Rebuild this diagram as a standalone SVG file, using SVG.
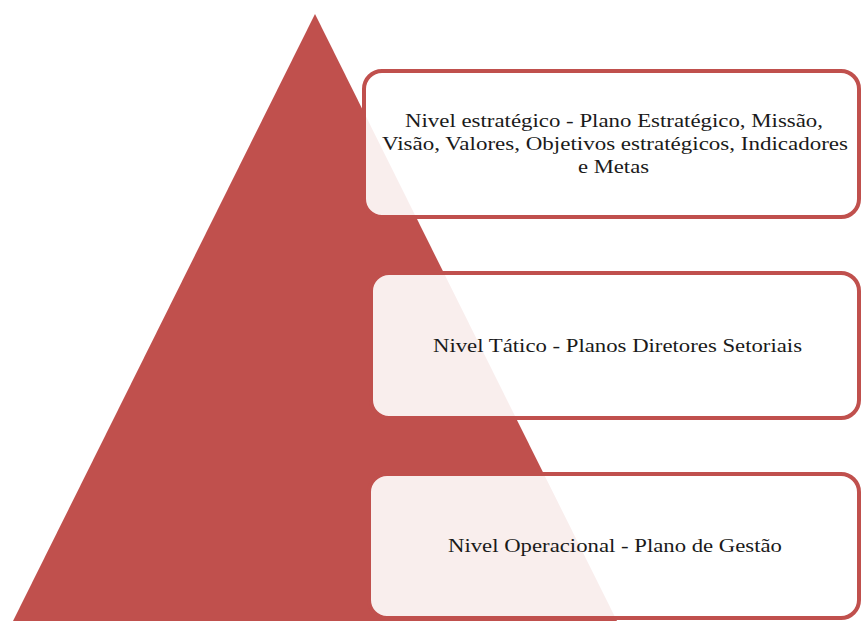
<svg xmlns="http://www.w3.org/2000/svg" width="862" height="621" viewBox="0 0 862 621">
<style>
.box{fill:#ffffff;fill-opacity:0.9;stroke:#c0504d;stroke-width:4}
.t{font-family:'Liberation Serif','Times New Roman',serif;font-size:18px;fill:#1a1a1a;text-anchor:middle}
</style>
<rect width="862" height="621" fill="#ffffff"/>
<g id="pyramid">
<polygon points="315,14 617,621 13,621" fill="#c0504d"/>
</g>
<g id="connectors"></g>
<g id="node-estrategico">
<rect class="box" x="364" y="71" width="495" height="146" rx="18" ry="18"/>
<text class="t" x="614" y="127" textLength="418" lengthAdjust="spacingAndGlyphs">Nivel estratégico - Plano Estratégico, Missão,</text>
<text class="t" x="615" y="150" textLength="466" lengthAdjust="spacingAndGlyphs">Visão, Valores, Objetivos estratégicos, Indicadores</text>
<text class="t" x="613.5" y="173" textLength="71" lengthAdjust="spacingAndGlyphs">e Metas</text>
</g>
<g id="node-tatico">
<rect class="box" x="371" y="273" width="488" height="145" rx="18" ry="18"/>
<text class="t" x="617.5" y="352" textLength="369" lengthAdjust="spacingAndGlyphs">Nivel Tático - Planos Diretores Setoriais</text>
</g>
<g id="node-operacional">
<rect class="box" x="369" y="474" width="490" height="144" rx="18" ry="18"/>
<text class="t" x="615" y="552" textLength="334" lengthAdjust="spacingAndGlyphs">Nivel Operacional - Plano de Gestão</text>
</g>
</svg>
